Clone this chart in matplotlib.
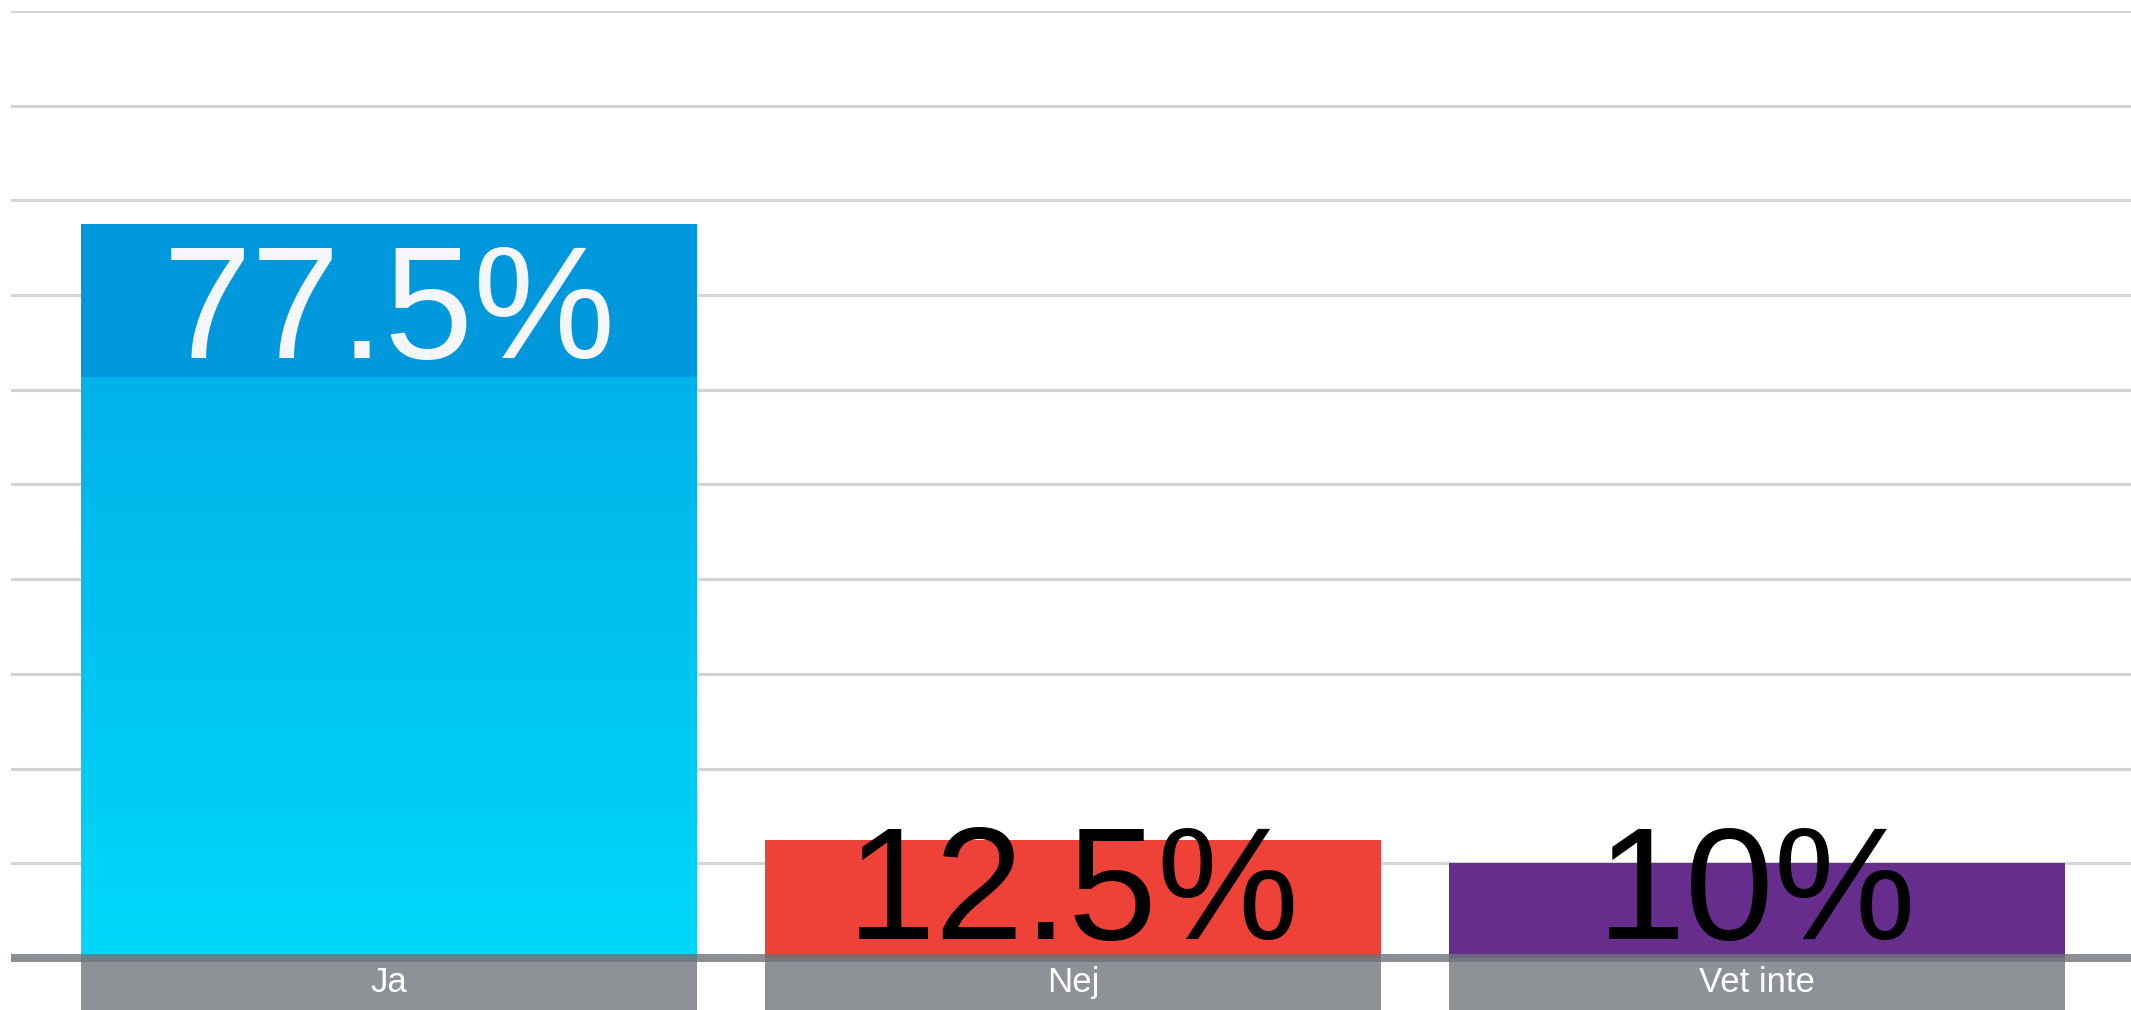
import matplotlib.pyplot as plt
import numpy as np
from matplotlib.colors import LinearSegmentedColormap
from matplotlib.patches import Rectangle

categories = ["Ja", "Nej", "Vet inte"]
values = [77.5, 12.5, 10.0]
value_labels = ["77.5%", "12.5%", "10%"]
bar_colors = ["#00A6E3", "#EE4137", "#662D8C"]
label_colors = ["#F4F6FA", "#000000", "#000000"]

plt.rcParams["font.family"] = ["Liberation Sans", "DejaVu Sans"]

fig = plt.figure(figsize=(21.31, 10.10), dpi=100)
ax = fig.add_axes([11 / 2131, 52 / 1010, 1 - 11 / 2131, 947 / 1010])

x = np.arange(len(categories))
width = 0.9

# grid
ax.set_yticks(np.arange(10, 101, 10))
ax.yaxis.grid(True, color="#D4D4D4", linewidth=2.2, zorder=0)
ax.set_xticks([])
ax.tick_params(left=False, labelleft=False)
for s in ax.spines.values():
    s.set_visible(False)

# bars; the first one gets a vertical gradient and a flat label band on top
bars = ax.bar(x, values, width=width, color=bar_colors, zorder=2)
grad = LinearSegmentedColormap.from_list("ja", ["#00D8FA", "#00A8E4"])
b0 = bars[0]
bx0 = b0.get_x()
img = ax.imshow(np.linspace(0, 1, 256).reshape(-1, 1), cmap=grad, origin="lower",
                extent=[bx0, bx0 + width, 0, values[0]], aspect="auto", zorder=3)
img.set_clip_path(b0)
ax.add_patch(Rectangle((bx0, values[0] - 16.1), width, 16.1,
                       color="#0098DC", zorder=4, linewidth=0))

# value labels
for xi, v, lab, c in zip(x, values, value_labels, label_colors):
    ax.text(xi, max(v - 14.1, 2.0), lab, ha="center", va="baseline",
            fontsize=115, color=c, zorder=6)

# category boxes under the baseline
for xi, cat in zip(x, categories):
    ax.add_patch(Rectangle((xi - width / 2, -5.6), width, 5.6, color="#8E9196",
                           clip_on=False, zorder=5, linewidth=0))
    ax.text(xi, -2.6, cat, ha="center", va="center", fontsize=25,
            color="white", zorder=6, clip_on=False)

ax.axhline(0, color="#6E7278", alpha=0.8, linewidth=5.8, zorder=5,
           clip_on=False, solid_capstyle="butt")
ax.set_xlim(-0.553, 2.547)
ax.set_ylim(0, 100)

fig.savefig("out.png", dpi=100)
plt.close(fig)
